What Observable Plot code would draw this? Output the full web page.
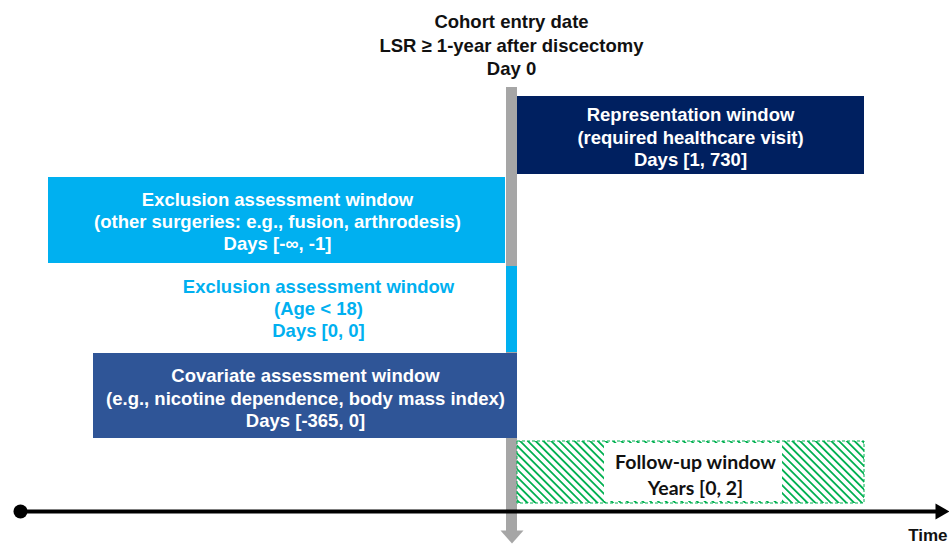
<!DOCTYPE html>
<html><head><meta charset="utf-8">
<script src="https://cdn.jsdelivr.net/npm/d3@7"></script>
<script src="https://cdn.jsdelivr.net/npm/@observablehq/plot@0.6"></script>
<style>body{margin:0;background:#fff;overflow:hidden}</style>
</head><body><div id="chart"></div>
<script>
// ---- Data ----
const headerLines = ["Cohort entry date", "LSR \u2265 1-year after discectomy", "Day 0"];
const windowNames = ["Representation window", "Exclusion assessment window", "Exclusion assessment window", "Covariate assessment window", "Follow-up window"];
const windowDetails = ["(required healthcare visit)", "(other surgeries: e.g., fusion, arthrodesis)", "(Age < 18)", "(e.g., nicotine dependence, body mass index)", null];
const windowRanges = ["Days [1, 730]", "Days [-\u221e, -1]", "Days [0, 0]", "Days [-365, 0]", "Years [0, 2]"];
const axisLabel = "Time";

// ---- Layout (schematic, in canvas units) ----
const boxX1 = [517, 48, 506, 93, 517];
const boxX2 = [864, 505, 517, 517, 864];
const boxY1 = [96, 177, 266, 353, 441];
const boxY2 = [174, 263, 352, 438, 503];
const boxFill = ["#002060", "#00b0f0", "#00b0f0", "#2f5597", "url(#hatch)"];
const labelX = [690, 277, 318, 305, 695];
const labelY = [136, 220.5, 307.5, 397, 473];
const labelColor = ["white", "white", "#00b0f0", "white", "#111"];

const windows = windowNames.map((n, i) => ({
  x1: boxX1[i], x2: boxX2[i], y1: boxY1[i], y2: boxY2[i], fill: boxFill[i],
  text: [n, windowDetails[i], windowRanges[i]].filter(d => d).join("\n"),
  tx: labelX[i], ty: labelY[i], color: labelColor[i]
}));
const followUp = windows[4];
const others = windows.slice(0, 4);

const arrowDown = {draw(c) { c.moveTo(-11.5, -6.5); c.lineTo(11.5, -6.5); c.lineTo(0, 6.5); c.closePath(); }};
const arrowRight = {draw(c) { c.moveTo(-7, -8); c.lineTo(7, 0); c.lineTo(-7, 8); c.closePath(); }};

const font = "Liberation Sans, Arial, sans-serif";

const chart = Plot.plot({
  width: 949, height: 545,
  margin: 0,
  x: {domain: [0, 949], range: [0, 949], axis: null},
  y: {domain: [0, 545], range: [0, 545], axis: null},
  style: {background: "white", fontFamily: font},
  marks: [
    // Day 0 vertical bar
    Plot.rect([0], {x1: 506, x2: 517, y1: 87, y2: 531, fill: "#a6a6a6"}),
    Plot.dot([0], {x: 511.5, y: 536.5, symbol: arrowDown, fill: "#a6a6a6", stroke: null}),
    // windows
    Plot.rect(others, {x1: "x1", x2: "x2", y1: "y1", y2: "y2", fill: "fill"}),
    Plot.rect([followUp], {x1: "x1", x2: "x2", y1: "y1", y2: "y2", fill: "fill", stroke: "#00b050", strokeWidth: 1, strokeDasharray: "3,2"}),
    Plot.rect([followUp], {x1: 604, x2: 782, y1: 443, y2: 501, fill: "white"}),
    Plot.text(others, {x: "tx", y: "ty", text: "text", fill: "color", fontSize: 18.5, fontWeight: "bold", lineHeight: 1.2}),
    Plot.text([followUp], {x: "tx", y: "ty", text: "text", fill: "color", fontSize: 19.5, fontWeight: "bold", lineHeight: 1.33, fontFamily: "Lato, sans-serif"}),
    // header
    Plot.text([headerLines.join("\n")], {x: 511, y: 43.5, text: d => d, fontSize: 18.5, fontWeight: "bold", fill: "#111", lineHeight: 1.27}),
    // timeline
    Plot.ruleY([511], {x1: 20, x2: 937, stroke: "black", strokeWidth: 4}),
    Plot.dot([0], {x: 20, y: 511, r: 7, fill: "black"}),
    Plot.dot([0], {x: 942, y: 511, symbol: arrowRight, fill: "black", stroke: null}),
    Plot.text([axisLabel], {x: 947, y: 535, text: d => d, textAnchor: "end", fontSize: 17, fontWeight: "bold", fill: "#111"})
  ]
});

const defs = d3.create("svg:defs");
const pat = defs.append("pattern").attr("id", "hatch").attr("patternUnits", "userSpaceOnUse")
  .attr("width", 5.5).attr("height", 5.5).attr("patternTransform", "rotate(-45)");
pat.append("rect").attr("width", 5.5).attr("height", 5.5).attr("fill", "white");
pat.append("rect").attr("x", 0).attr("y", 0).attr("width", 1.8).attr("height", 5.5).attr("fill", "#00b050");
chart.insertBefore(defs.node(), chart.firstChild);

document.getElementById("chart").appendChild(chart);
</script></body></html>
